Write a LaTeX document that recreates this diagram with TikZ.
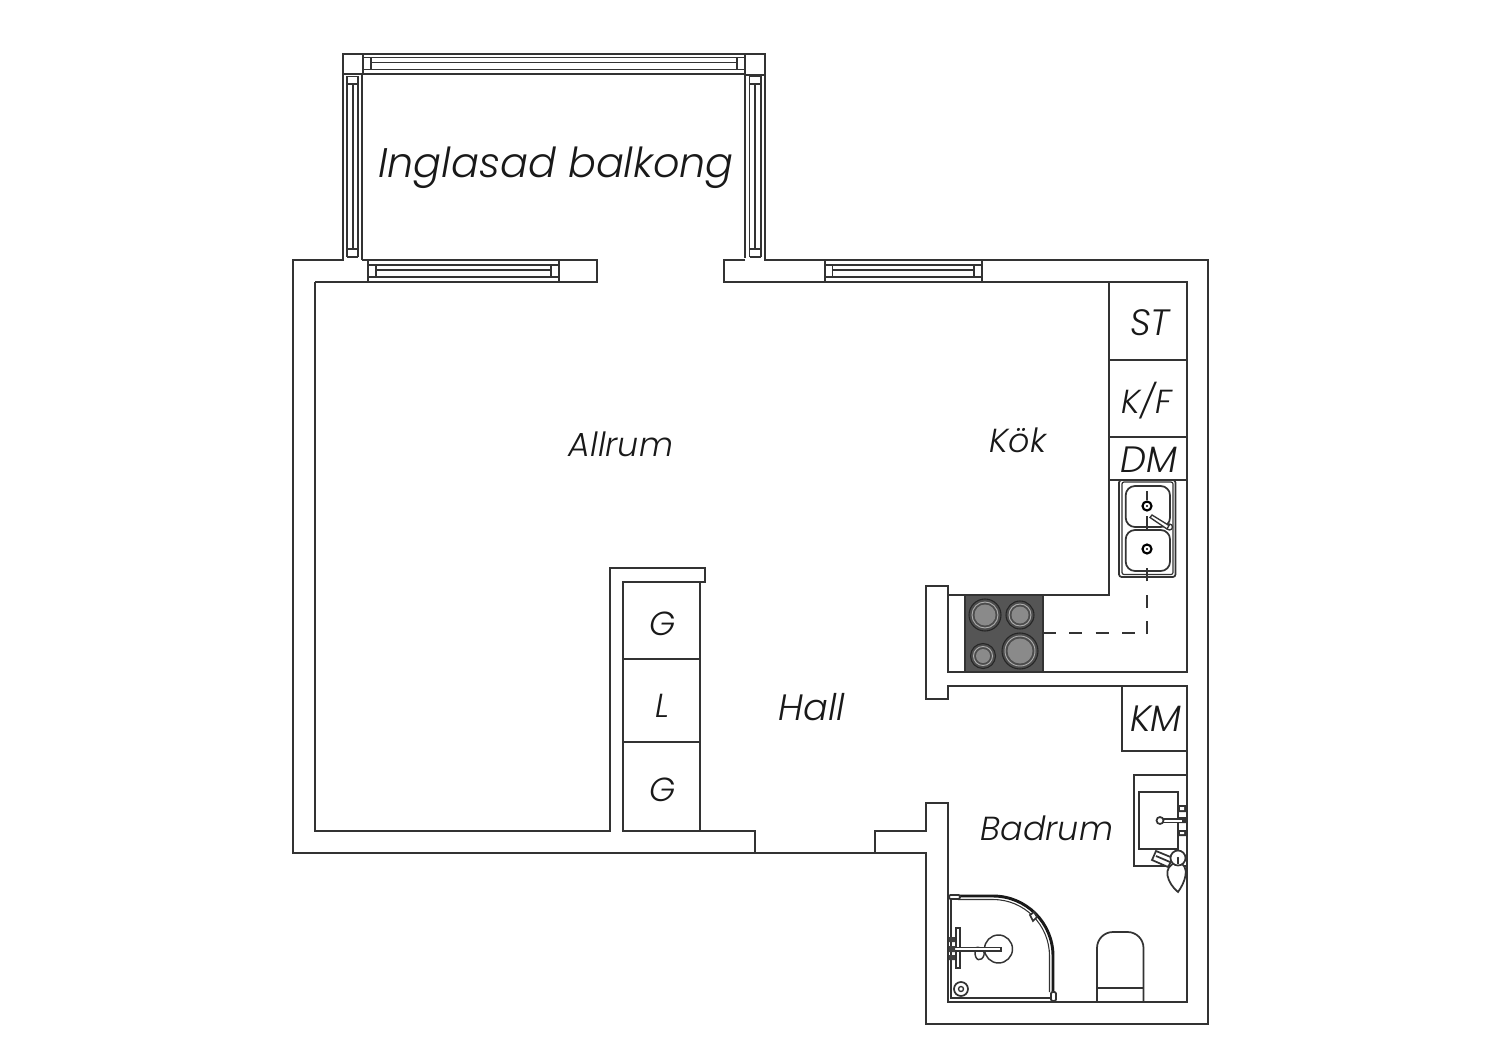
\documentclass[tikz,border=0pt]{standalone}
\usepackage{fontspec}
\newfontfamily\labfont{Poppins Light Italic}
\definecolor{ln}{HTML}{333333}
\definecolor{stove}{HTML}{555555}
\definecolor{burn}{HTML}{8A8A8A}
\tikzset{
 wall/.style={draw=ln,line width=1.5pt,line join=miter},
 thin line/.style={draw=ln,line width=1.3pt},
 lab/.style={font=\labfont\fontsize{25}{25}\selectfont,text=black!90,inner sep=0pt},
 caplab/.style={font=\labfont\fontsize{27.5}{27.5}\selectfont,text=black!90,inner sep=0pt},
 biglab/.style={font=\labfont\fontsize{31}{31}\selectfont,text=black!90,inner sep=0pt}
}
\begin{document}
\begin{tikzpicture}[x=0.75pt,y=-0.75pt]
\useasboundingbox[fill=white] (0,0) rectangle (1500,1060);
% outer walls
\draw[wall] (343,257)--(343,260)--(293,260)--(293,853)--(926,853)--(926,1024)--(1208,1024)--(1208,260)--(765,260)--(765,258);
\draw[wall] (315,282)--(315,831)--(610,831)--(610,568)--(705,568)--(705,582)--(623,582)--(623,831)--(755,831)--(755,853);
\draw[wall] (875,853)--(875,831)--(926,831)--(926,803)--(948,803)--(948,1002)--(1187,1002)--(1187,686)--(948,686)--(948,699)--(926,699)--(926,586)--(948,586)--(948,672)--(1187,672)--(1187,282)--(982,282);
\draw[wall] (948,595)--(1109,595)--(1109,282);
% top wall stubs
\draw[wall] (315,282)--(368,282);
\draw[wall] (362,260)--(597,260)--(597,282)--(559,282);
\draw[wall] (745,260)--(724,260)--(724,282)--(825,282);
% balcony corner posts
\draw[wall] (343,74)--(343,54)--(765,54)--(765,75)--(745,75)--(745,54);
\draw[wall] (363,54)--(363,74)--(343,74);
\draw[wall] (363,74)--(745,74);
% balcony side windows
\foreach \xa/\xb/\xc/\xd/\xe in {343/347/353/358/362,745/749.5/755/761/765}{
  \draw[wall] (\xa,74)--(\xa,258);
  \draw[wall] (\xe,74)--(\xe,260);
  \draw[thin line] (\xb,76)--(\xb,257) (\xd,76)--(\xd,257) (\xc,84)--(\xc,249);
  \draw[thin line] (\xb,76.5)--(\xd,76.5) (\xb,84)--(\xd,84) (\xb,249)--(\xd,249) (\xb,257)--(\xd,257);
}
% balcony top window
\draw[thin line] (363,57.5)--(745,57.5) (371,62.5)--(737,62.5) (363,69.5)--(745,69.5);
\draw[thin line] (371,57.5)--(371,69.5) (737,57.5)--(737,69.5);
% wall windows
\foreach \a/\b/\c/\d in {368/376/551/559,825/832.5/974/982}{
  \draw[wall] (\a,260)--(\a,282) (\d,260)--(\d,282) (\a,282)--(\d,282);
  \draw[thin line] (\a,265)--(\d,265) (\c,270)--(\b,270) (\a,277)--(\d,277) (\b,265)--(\b,277) (\c,265)--(\c,277);
}
% kitchen fittings
\draw[thin line] (1109,360)--(1187,360) (1109,437)--(1187,437) (1109,480)--(1187,480);
% stove
\fill[stove,draw=ln,line width=1pt] (965,595) rectangle (1043,672);
\foreach \x/\y/\r in {985/615/16,1020/615/14,983/656/12.5,1020/651/18}{
  \fill[black!70,draw=black!85,line width=.8pt] (\x,\y) circle[radius=\r];
  \draw[burn!70,line width=.7pt] (\x,\y) circle[radius=\r-3];
  \fill[burn] (\x,\y) circle[radius=\r-5.5];
}
% sink
\draw[thin line,rounded corners=2pt] (1119,480) rectangle (1175.5,577);
\draw[draw=ln,line width=.9pt,rounded corners=1.5pt] (1122,482) rectangle (1173,574.5);
\draw[thin line,rounded corners=7pt] (1125.7,486) rectangle (1170,527);
\draw[thin line,rounded corners=7pt] (1125.7,530) rectangle (1170,571);
\foreach \y in {506,549}{
  \draw[black,line width=1.6pt] (1147,\y) circle[radius=4.5];
  \fill[black] (1147,\y) circle[radius=1.2];
}
\draw[thin line] (1147,491)--(1147,500) (1147,516)--(1147,530);
\draw[thin line,dash pattern=on 9.75pt off 10pt] (1147,634)--(1147,568);
\draw[thin line,dash pattern=on 9.75pt off 10pt] (1043,633)--(1136,633);
\draw[draw=ln,fill=white,line width=1pt] (1169.5,527) circle[radius=3];
\draw[draw=ln,fill=white,line width=1pt] (1150,517.5)--(1152,515)--(1169,525.5)--(1167,529)--cycle;
% bathroom
\draw[thin line] (1122,686)--(1122,751)--(1187,751);
\draw[thin line] (1187,775)--(1134,775)--(1134,866)--(1187,866);
\draw[thin line] (1138.7,792) rectangle (1177.7,849);
\fill[black!80] (1178,805) rectangle (1186,812) (1178,817) rectangle (1186,823) (1178,830) rectangle (1186,836);
\fill[white] (1180,807) rectangle (1184,810) (1180,832) rectangle (1184,834);
\draw[thin line,fill=white] (1160,819) rectangle (1183,822.5);
\draw[thin line,fill=white] (1160,820.5) circle[radius=3.5];
\draw[thin line,fill=white] (1152,860)--(1156,851)--(1173,858)--(1168,867)--cycle;
\draw[thin line] (1156,856)--(1170,862);
\draw[thin line,fill=white] (1178,862) .. controls (1160,866) and (1168,884) .. (1178,892) .. controls (1184,884) and (1192,866) .. (1178,862);
\draw[thin line,fill=white] (1178,858) circle[radius=7.5];
\fill[black] (1178,858) circle[radius=1.2];
\draw[thin line] (1178,858)--(1178,864);
% shower
\draw[draw=black!90,line width=2.2pt] (958,896)--(993,896) arc[start angle=-90,end angle=0,radius=60]--(1053,992);
\draw[draw=ln,line width=.8pt] (958,899.5)--(993,899.5) arc[start angle=-90,end angle=0,radius=56.5]--(1049.5,992);
\draw[thin line,fill=white,rounded corners=1pt] (949,895) rectangle (960,899);
\draw[thin line,fill=white,rounded corners=1pt] (1051,992) rectangle (1056,1001);
\draw[thin line] (951,899)--(951,998)--(1051,998);
\draw[thin line,fill=white] (1030,915)--(1034,912)--(1037,917)--(1033,921)--cycle;
\draw[draw=ln,line width=1.1pt] (998.5,949) circle[radius=14];
\draw[draw=ln,line width=1.1pt] (975,950) .. controls (974,962) and (982,962) .. (984,955) .. controls (985,948) and (978,946) .. (975,948);
\draw[thin line,fill=white] (956,928) rectangle (960,968);
\draw[thin line,fill=white] (949,947.5)--(1001,947.5)--(1001,951)--(949,951);
\fill[black!75] (949,937) rectangle (955,942) (949,955) rectangle (955,960) (949,946) rectangle (955,952);
\draw[thin line] (961,989) circle[radius=7];
\draw[draw=ln,line width=1pt] (961,989) circle[radius=2.5];
% toilet
\draw[thin line] (1097,1002)--(1097,948) arc[start angle=180,end angle=270,radius=16]--(1127.5,932) arc[start angle=270,end angle=360,radius=16]--(1143.5,1002);
\draw[thin line] (1097,988)--(1143.5,988);
% wardrobes
\draw[thin line] (700,582)--(700,831) (623,659)--(700,659) (623,742)--(700,742);
% labels
\node[biglab] (balkong) at (556,168) {Inglasad balkong};
\node[caplab] (st) at (1150,323) {ST};
\node[lab] (kf) at (1147,401) {K/F};
\node[caplab] (dm) at (1149,460) {DM};
\node[lab] (kok) at (1018,440) {Kök};
\node[lab] (allrum) at (621,444) {Allrum};
\node[lab] (g1) at (663,624) {G};
\node[lab] (l) at (663,706) {L};
\node[lab] (g2) at (663,790) {G};
\node[caplab] (hall) at (812,707) {Hall};
\node[caplab] (km) at (1156,719) {KM};
\node[lab] (badrum) at (1047,828) {Badrum};
\end{tikzpicture}
\end{document}
